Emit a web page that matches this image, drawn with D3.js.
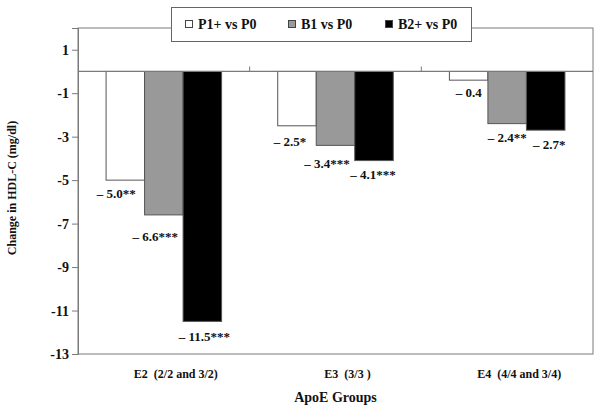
<!DOCTYPE html>
<html>
<head>
<meta charset="utf-8">
<script src="https://cdn.jsdelivr.net/npm/d3@7"></script>
<style>
  html, body { margin: 0; padding: 0; background: #fff; }
  svg { display: block; font-family: "Liberation Serif", "Times New Roman", serif; font-weight: bold; }
  text { white-space: pre; }
</style>
</head>
<body>
<svg id="chart" width="600" height="408"></svg>
<script>
// ---- data ----
const categories = ["E2  (2/2 and 3/2)", "E3  (3/3 )", "E4  (4/4 and 3/4)"];
const series = ["P1+ vs P0", "B1 vs P0", "B2+ vs P0"];
const p1Values = [-5.0, -2.5, -0.4];
const b1Values = [-6.6, -3.4, -2.4];
const b2Values = [-11.5, -4.1, -2.7];
const p1Labels = ["\u2013 5.0**", "\u2013 2.5*", "\u2013 0.4"];
const b1Labels = ["\u2013 6.6***", "\u2013 3.4***", "\u2013 2.4**"];
const b2Labels = ["\u2013 11.5***", "\u2013 4.1***", "\u2013 2.7*"];
const yTicks = [1, -1, -3, -5, -7, -9, -11, -13];
const yDomain = [-13, 2];

// ---- layout / style (not data) ----
const fills = ["#ffffff", "#999999", "#000000"];
// label nudges relative to bar centre / bar bottom, per series per category
const labelDx = [[-9, -7, 0], [-8.5, -8.5, 0], [2, -1, 3.5]];
const labelDy = [[13, 15.6, 12.3], [22, 18, 13.4], [14.6, 13.7, 14.5]];
const legendMarkerX = [185, 288, 385];

const values = [p1Values, b1Values, b2Values];
const labels = [p1Labels, b1Labels, b2Labels];

const svg = d3.select("#chart");
const plotL = 78, plotR = 593, plotT = 28, plotB = 354;

const x0 = d3.scaleBand().domain(categories).range([plotL, plotR]).padding(0);
const groupW = x0.bandwidth() * 0.673;
const x1 = d3.scaleBand().domain(series).range([0, groupW]).padding(0);
const y = d3.scaleLinear().domain(yDomain).range([plotB, plotT]);

const lineCol = "#7a7a7a";

// frame
svg.append("rect").attr("x", plotL).attr("y", y(yDomain[1])).attr("width", plotR - plotL)
  .attr("height", plotB - y(yDomain[1])).attr("fill", "none").attr("stroke", lineCol).attr("stroke-width", 1);

// bars
const rows = [];
categories.forEach((c, ci) => series.forEach((s, si) => rows.push({c, ci, s, si, v: values[si][ci], label: labels[si][ci]})));

const barX = d => x0(d.c) + (x0.bandwidth() - groupW) / 2 + x1(d.s);

svg.append("g").selectAll("rect").data(rows).join("rect")
  .attr("x", barX)
  .attr("y", d => y(Math.max(0, d.v)))
  .attr("width", x1.bandwidth())
  .attr("height", d => Math.abs(y(d.v) - y(0)))
  .attr("fill", d => fills[d.si])
  .attr("stroke", "#555")
  .attr("stroke-width", 1);

// zero line (category axis)
svg.append("line").attr("x1", plotL).attr("x2", plotR).attr("y1", y(0)).attr("y2", y(0))
  .attr("stroke", lineCol).attr("stroke-width", 1.2);
// ticks between categories
categories.slice(1).forEach(c => {
  svg.append("line").attr("x1", x0(c)).attr("x2", x0(c)).attr("y1", y(0)).attr("y2", y(0) - 5)
    .attr("stroke", lineCol).attr("stroke-width", 1);
});

// y axis
const yAxis = d3.axisLeft(y).tickValues(yTicks).tickSize(6).tickPadding(3).tickFormat(d => String(d));
const ya = svg.append("g").attr("transform", `translate(${plotL},0)`).call(yAxis);
ya.select(".domain").attr("stroke", lineCol);
ya.selectAll(".tick line").attr("stroke", lineCol);
ya.selectAll(".tick text").attr("font-family", "Liberation Serif").attr("font-weight", "bold")
  .attr("font-size", 14).attr("fill", "#111");

// value labels
svg.append("g").selectAll("text").data(rows).join("text")
  .attr("x", d => barX(d) + x1.bandwidth() / 2 + labelDx[d.si][d.ci])
  .attr("y", d => y(d.v) + labelDy[d.si][d.ci] + 4.5)
  .attr("text-anchor", "middle")
  .attr("font-size", 13)
  .attr("fill", "#111")
  .text(d => d.label);

// category labels
svg.append("g").selectAll("text").data(categories).join("text")
  .attr("x", d => x0(d) + x0.bandwidth() / 2 + 12)
  .attr("y", 378)
  .attr("text-anchor", "middle")
  .attr("font-size", 12)
  .attr("fill", "#111")
  .text(d => d);

// axis titles
svg.append("text").attr("x", (plotL + plotR) / 2).attr("y", 402).attr("text-anchor", "middle")
  .attr("font-size", 14).attr("fill", "#111").text("ApoE Groups");
svg.append("text").attr("transform", `translate(16,${(plotT + plotB) / 2 - 3}) rotate(-90)`)
  .attr("text-anchor", "middle").attr("font-size", 12).attr("fill", "#111").text("Change in HDL-C (mg/dl)");

// legend
const lg = svg.append("g");
lg.append("rect").attr("x", 171.5).attr("y", 7.5).attr("width", 300).attr("height", 34)
  .attr("fill", "#fff").attr("stroke", "#666").attr("stroke-width", 1);
series.forEach((s, i) => {
  lg.append("rect").attr("x", legendMarkerX[i] + 0.5).attr("y", 20.5).attr("width", 7).attr("height", 7)
    .attr("fill", fills[i]).attr("stroke", "#444").attr("stroke-width", 1);
  lg.append("text").attr("x", legendMarkerX[i] + 13).attr("y", 29).attr("font-size", 14)
    .attr("fill", "#111").text(s);
});
</script>
</body>
</html>
